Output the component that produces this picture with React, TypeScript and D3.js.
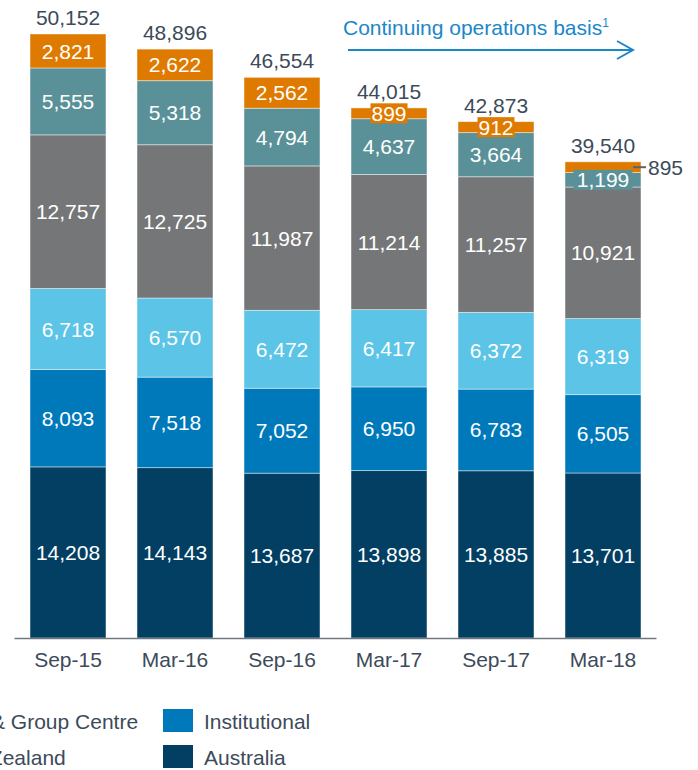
import React from "react";
import * as d3 from "d3";

const categories = ["Sep-15", "Mar-16", "Sep-16", "Mar-17", "Sep-17", "Mar-18"];
const australia = [14208, 14143, 13687, 13898, 13885, 13701];
const institutional = [8093, 7518, 7052, 6950, 6783, 6505];
const newZealand = [6718, 6570, 6472, 6417, 6372, 6319];
const tsoGroupCentre = [12757, 12725, 11987, 11214, 11257, 10921];
const wealthAustralia = [5555, 5318, 4794, 4637, 3664, 1199];
const asiaRetailPacific = [2821, 2622, 2562, 899, 912, 895];
const totals = [50152, 48896, 46554, 44015, 42873, 39540];

const seriesNames = ["Australia", "Institutional", "New Zealand", "TSO & Group Centre", "Wealth Australia", "Asia Retail & Pacific"];
const seriesValues = [australia, institutional, newZealand, tsoGroupCentre, wealthAustralia, asiaRetailPacific];
const seriesColors = ["#023F63", "#0079BB", "#5BC4E7", "#757678", "#5A9199", "#DF7A00"];

const font = "'Liberation Sans', Arial, sans-serif";
const fmt = d3.format(",");

export default function App() {
  const x = d3.scaleBand<string>().domain(categories).range([14.5, 656.5]).paddingInner(0.29).paddingOuter(0.145);
  const y = d3.scaleLinear().domain([0, 50152]).range([638, 34]);

  const rows = categories.map((c, i) => {
    const r: any = { cat: c };
    seriesNames.forEach((n, s) => (r[n] = seriesValues[s][i]));
    return r;
  });
  const stacked = d3.stack<any>().keys(seriesNames)(rows);

  const bw = x.bandwidth();

  // legend layout (column-major, partially off-canvas on the left)
  const legendCols = [
    [seriesNames[5], seriesNames[4]],
    [seriesNames[3], seriesNames[2]],
    [seriesNames[1], seriesNames[0]],
  ];
  const colX = [-348, -99, 163];
  const rowY = [709, 745];

  return (
    <svg width={698} height={770} style={{ position: "absolute", left: 0, top: 0 }}>
      <rect width={698} height={770} fill="#fff" />
      {stacked.map((layer, s) =>
        layer.map((d, i) => {
          const x0 = x(categories[i])!;
          const y0 = y(d[1]);
          const h = y(d[0]) - y(d[1]);
          return (
            <rect key={`r${s}-${i}`} x={x0} y={y0} width={bw} height={h} fill={seriesColors[s]} stroke="rgba(255,255,255,0.55)" strokeWidth={0.8} />
          );
        })
      )}
      {stacked.map((layer, s) =>
        layer.map((d, i) => {
          const v = seriesValues[s][i];
          const cx = x(categories[i])! + bw / 2;
          const cy = (y(d[0]) + y(d[1])) / 2;
          const label = fmt(v);
          const outside = s === 5 && i === 5;
          if (outside) {
            const xr = x(categories[i])! + bw;
            return (
              <g key={`l${s}-${i}`}>
                <line x1={xr - 8} x2={xr + 5} y1={cy} y2={cy} stroke="#596470" strokeWidth={2} />
                <text x={xr + 7} y={cy} dy="0.36em" fontFamily={font} fontSize={21} fill="#3D4A5A">{label}</text>
              </g>
            );
          }
          const tw = label.length * 11 + 4;
          return (
            <g key={`l${s}-${i}`}>
              <rect x={cx - tw / 2} y={cy - 10} width={tw} height={20} fill={seriesColors[s]} />
              <text x={cx} y={cy} dy="0.36em" textAnchor="middle" fontFamily={font} fontSize={21} fill="#fff">{label}</text>
            </g>
          );
        })
      )}
      {totals.map((t, i) => (
        <text key={`t${i}`} x={x(categories[i])! + bw / 2} y={y(t) - 9} textAnchor="middle" fontFamily={font} fontSize={21} fill="#3D4A5A">{fmt(t)}</text>
      ))}
      <line x1={14.5} x2={656.5} y1={638.5} y2={638.5} stroke="#6F7780" strokeWidth={1.5} />
      {categories.map((c) => (
        <text key={c} x={x(c)! + bw / 2} y={667} textAnchor="middle" fontFamily={font} fontSize={21} fill="#3D4A5A">{c}</text>
      ))}
      <text x={343} y={35} fontFamily={font} fontSize={21} fill="#1A87C8">
        Continuing operations basis<tspan fontSize={12} dy={-8}>1</tspan>
      </text>
      <line x1={348} x2={632} y1={50} y2={50} stroke="#1A87C8" strokeWidth={2} />
      <polyline points="617,41 633,50 617,59" fill="none" stroke="#1A87C8" strokeWidth={2} />
      {legendCols.map((col, ci) =>
        col.map((name, ri) => {
          const idx = seriesNames.indexOf(name);
          return (
            <g key={name}>
              <rect x={colX[ci]} y={rowY[ri]} width={30} height={23} fill={seriesColors[idx]} />
              <text x={colX[ci] + 41} y={rowY[ri] + 12} dy="0.36em" fontFamily={font} fontSize={21} fill="#3D4A5A">{name}</text>
            </g>
          );
        })
      )}
    </svg>
  );
}
